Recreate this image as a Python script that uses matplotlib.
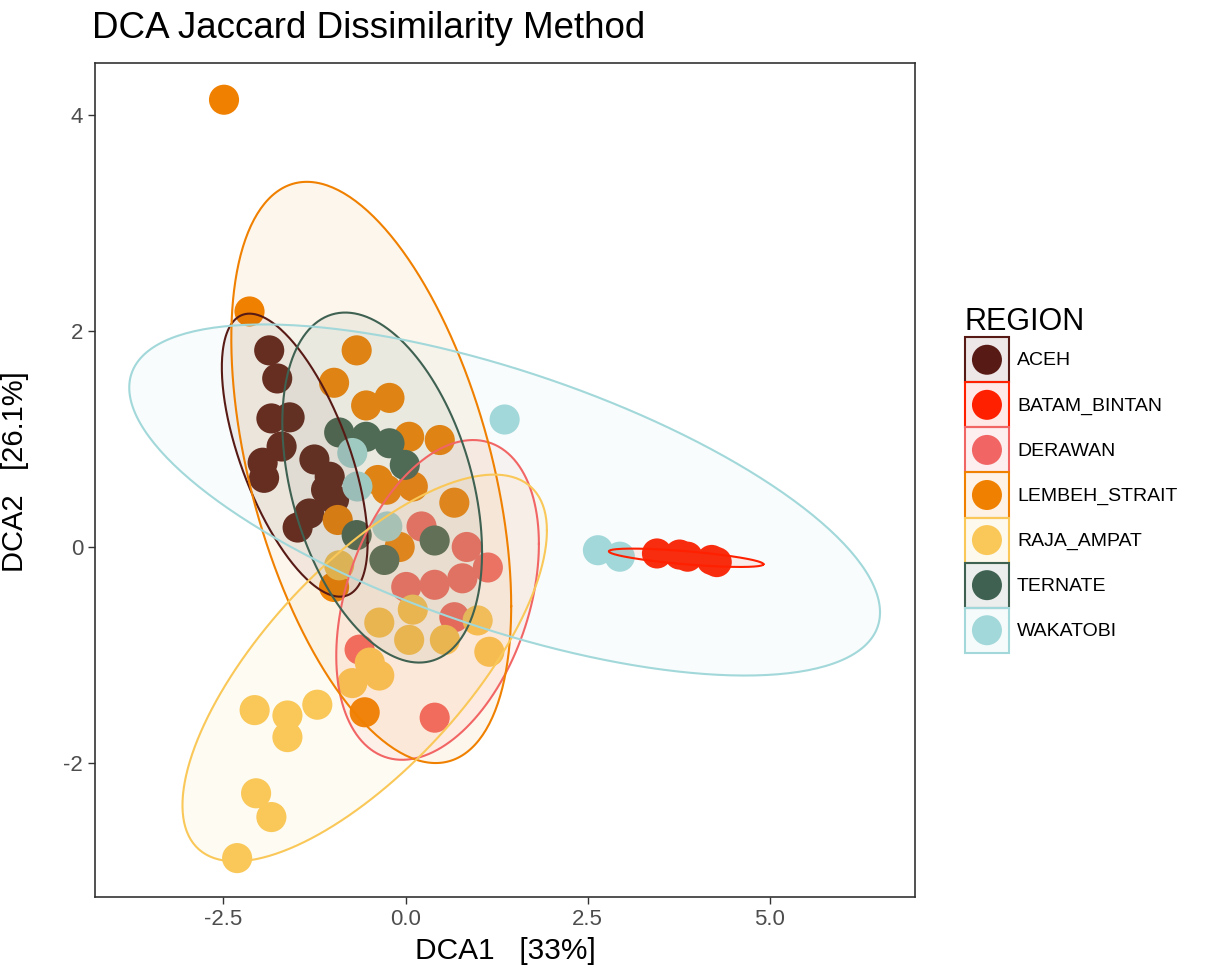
import numpy as np
import matplotlib
matplotlib.use("Agg")
import matplotlib.pyplot as plt
from matplotlib.patches import Rectangle, Circle
from matplotlib.legend_handler import HandlerTuple, HandlerPatch

plt.rcParams['font.family'] = ['Liberation Sans', 'DejaVu Sans']

regions = ["ACEH", "BATAM_BINTAN", "DERAWAN", "LEMBEH_STRAIT", "RAJA_AMPAT", "TERNATE", "WAKATOBI"]
colors = ["#581a15", "#ff2000", "#f26565", "#f08000", "#f9c858", "#3e6151", "#a2d8da"]

# site scores (DCA1, DCA2) per region
aceh_x = [-1.87, -1.76, -1.84, -1.59, -1.70, -1.96, -1.94, -1.25, -1.04, -1.09, -0.98, -1.32, -1.48]
aceh_y = [1.82, 1.56, 1.19, 1.20, 0.93, 0.78, 0.64, 0.81, 0.65, 0.53, 0.44, 0.31, 0.18]
batam_x = [3.45, 3.76, 3.87, 4.20, 4.27]
batam_y = [-0.06, -0.07, -0.09, -0.12, -0.14]
derawan_x = [0.22, 0.84, 1.13, 0.78, 0.01, 0.40, 0.67, -0.63, 0.40]
derawan_y = [0.19, 0.00, -0.19, -0.29, -0.37, -0.35, -0.65, -0.95, -1.58]
lembeh_x = [-2.49, -2.14, -0.67, -0.98, -0.54, -0.22, 0.05, 0.47, -0.26, 0.10, 0.67, -0.93, -0.08, -0.98, -0.56, -0.38]
lembeh_y = [4.14, 2.18, 1.82, 1.52, 1.31, 1.38, 1.02, 0.99, 0.53, 0.56, 0.41, 0.25, 0.00, -0.37, -1.53, 0.62]
raja_x = [-2.07, -1.62, -1.21, -1.62, -2.05, -1.84, -2.31, -0.73, -0.36, -0.49, -0.36, 0.05, 0.54, 0.99, 1.15, 0.10, -0.91]
raja_y = [-1.51, -1.56, -1.46, -1.76, -2.28, -2.50, -2.88, -1.26, -1.19, -1.07, -0.70, -0.86, -0.86, -0.68, -0.97, -0.58, -0.17]
ternate_x = [-0.91, -0.54, -0.22, -0.01, -0.67, -0.29, 0.40]
ternate_y = [1.06, 1.02, 0.96, 0.76, 0.11, -0.12, 0.06]
wakatobi_x = [1.36, 2.64, 2.94, -0.73, -0.66, -0.25]
wakatobi_y = [1.18, -0.03, -0.09, 0.87, 0.56, 0.19]

xs = [aceh_x, batam_x, derawan_x, lembeh_x, raja_x, ternate_x, wakatobi_x]
ys = [aceh_y, batam_y, derawan_y, lembeh_y, raja_y, ternate_y, wakatobi_y]

# 95% ellipses: centre, half extent in x and y, correlation
ell_cx = [-1.52, 3.85, 0.44, -0.47, -0.56, -0.32, 1.36]
ell_cy = [0.85, -0.10, -0.49, 0.69, -1.12, 0.55, 0.435]
ell_hx = [1.00, 1.06, 1.39, 1.92, 2.50, 1.37, 5.15]
ell_hy = [1.31, 0.085, 1.48, 2.69, 1.79, 1.62, 1.625]
ell_r = [-0.62, -0.70, 0.35, -0.46, 0.71, -0.37, -0.64]

fig = plt.figure(figsize=(12.25, 9.73), dpi=100)
ax = fig.add_axes([95 / 1225, 1 - 897 / 973, 820 / 1225, 834 / 973])

for i in range(len(regions)):
    ax.scatter(xs[i], ys[i], s=470, color=colors[i], edgecolors='none', zorder=2)

t = np.linspace(0, 2 * np.pi, 300)
for i in range(len(regions)):
    cov = np.array([[ell_hx[i] ** 2, ell_r[i] * ell_hx[i] * ell_hy[i]],
                    [ell_r[i] * ell_hx[i] * ell_hy[i], ell_hy[i] ** 2]])
    L = np.linalg.cholesky(cov)
    pts = L @ np.vstack([np.cos(t), np.sin(t)])
    ex = ell_cx[i] + pts[0]
    ey = ell_cy[i] + pts[1]
    ax.fill(ex, ey, color=colors[i], alpha=0.07, lw=0, zorder=3)
    ax.plot(ex, ey, color=colors[i], lw=1.5, zorder=4)

ax.set_xlim(-4.26, 6.99)
ax.set_ylim(-3.24, 4.48)
ax.set_xticks([-2.5, 0.0, 2.5, 5.0])
ax.set_xticklabels(["-2.5", "0.0", "2.5", "5.0"])
ax.set_yticks([-2, 0, 2, 4])
ax.set_yticklabels(["-2", "0", "2", "4"])
ax.tick_params(direction='out', length=5, width=1, color='#333333',
               labelcolor='#4d4d4d', labelsize=16)
for sp in ax.spines.values():
    sp.set_color('#333333')
    sp.set_linewidth(1.2)

ax.set_xlabel("DCA1   [33%]", fontsize=21.5, labelpad=5)
ax.set_ylabel("DCA2   [26.1%]", fontsize=21)
ax.yaxis.set_label_coords(-0.081, 0.51)
fig.text(92 / 1225, 1 - 29 / 973, "DCA Jaccard Dissimilarity Method", fontsize=26.5,
         ha='left', va='center')


# legend keys: box filling the handle area with a dot in its centre
def key_box(legend, orig_handle, xdescent, ydescent, width, height, fontsize):
    return Rectangle((-xdescent, -ydescent), width, height)


def key_dot(legend, orig_handle, xdescent, ydescent, width, height, fontsize):
    return Circle((-xdescent + width / 2, -ydescent + height / 2), radius=10.8)


handles = []
for c in colors:
    box = Rectangle((0, 0), 1, 1, facecolor=matplotlib.colors.to_rgba(c, 0.1), edgecolor=c, lw=1.5)
    dot = Circle((0, 0), 1, facecolor=c, edgecolor='none')
    handles.append((box, dot))
leg = ax.legend(handles, regions,
                handler_map={tuple: HandlerTuple(ndivide=1),
                             Rectangle: HandlerPatch(patch_func=key_box),
                             Circle: HandlerPatch(patch_func=key_dot)},
                title="REGION", loc='center left', bbox_to_anchor=(1.051, 0.5),
                frameon=False, fontsize=14, title_fontsize=22,
                handlelength=2.3, handleheight=3.19, labelspacing=0.0,
                handletextpad=0.4, alignment='left', borderaxespad=0)

fig.savefig("out.png", dpi=100)
